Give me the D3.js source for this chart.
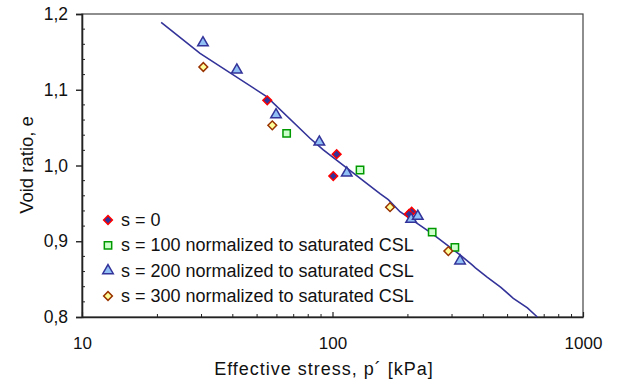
<!DOCTYPE html>
<html>
<head>
<meta charset="utf-8">
<script src="https://cdn.jsdelivr.net/npm/d3@7"></script>
<style>
  body { margin: 0; background: #fff; }
  svg { font-family: "Liberation Sans", Arial, sans-serif; }
</style>
</head>
<body>
<svg class="chart" width="620" height="381"></svg>
<script>
// series: [p' kPa, void ratio e]
const s0 = [[54.9, 1.086], [103.9, 1.015], [100.7, 0.986], [207, 0.939], [202, 0.936]];
const s100 = [[65.6, 1.0425], [128.8, 0.994], [250, 0.912], [308, 0.892]];
const s200 = [[30.4, 1.162], [41.5, 1.126], [59.5, 1.067], [88.6, 1.031], [114, 0.990],
              [206, 0.929], [219, 0.933], [323, 0.874]];
const s300 = [[30.5, 1.130], [57.5, 1.053], [169.7, 0.945], [290, 0.887]];
// fitted CSL
const csl = [[20.7, 1.189], [29.6, 1.148], [54.6, 1.091], [81.3, 1.036], [91.9, 1.0205],
             [154.7, 0.963], [167, 0.955], [186, 0.939], [249, 0.9105], [323, 0.882],
             [360, 0.869], [372, 0.865], [413, 0.853], [470, 0.839], [527, 0.8247], [600, 0.812], [657, 0.80]];

const xTicks = [10, 100, 1000];
const yTicks = [0.8, 0.9, 1.0, 1.1, 1.2];
const legendLabels = ["s = 0", "s = 100 normalized to saturated CSL",
  "s = 200 normalized to saturated CSL", "s = 300 normalized to saturated CSL"];

const svg = d3.select(".chart");
const mLeft = 82, mRight = 583, mTop = 14, mBottom = 317;
const font = "Liberation Sans, Arial, sans-serif";

const x = d3.scaleLog().domain([10, 1000]).range([mLeft, mRight]);
const y = d3.scaleLinear().domain([0.8, 1.2]).range([mBottom, mTop]);

const fmt = (v) => v.toFixed(1).replace(".", ",");

// frame
svg.append("rect")
  .attr("x", mLeft).attr("y", mTop)
  .attr("width", mRight - mLeft).attr("height", mBottom - mTop)
  .attr("fill", "none").attr("stroke", "#444").attr("stroke-width", 1.2);

// y axis: major ticks outside, minor ticks inside
const yAxis = svg.append("g").attr("transform", `translate(${mLeft},0)`);
yAxis.call(d3.axisLeft(y).tickValues(yTicks).tickFormat(fmt).tickSize(6).tickPadding(8))
  .call((g) => g.select(".domain").attr("stroke", "#222").attr("stroke-width", 1.6));
yAxis.selectAll(".tick line").attr("stroke", "#222").attr("stroke-width", 1.4);
yAxis.selectAll("text").attr("font-size", 17.5).attr("fill", "#111").attr("font-family", font);
const yMinor = d3.range(0.82, 1.2, 0.02).filter((v) => Math.abs(v * 10 - Math.round(v * 10)) > 0.01);
yAxis.selectAll(".minor").data(yMinor).enter().append("line")
  .attr("x1", 0).attr("x2", 3)
  .attr("y1", (d) => y(d)).attr("y2", (d) => y(d))
  .attr("stroke", "#222").attr("stroke-width", 1);

// x axis: ticks inside
const xAxis = svg.append("g").attr("transform", `translate(0,${mBottom})`);
xAxis.call(d3.axisBottom(x).tickValues(xTicks).tickFormat(d3.format("d")).tickSizeInner(-5).tickSizeOuter(0).tickPadding(20))
  .call((g) => g.select(".domain").attr("stroke", "#222").attr("stroke-width", 1.6));
xAxis.selectAll(".tick line").attr("stroke", "#222").attr("stroke-width", 1.2);
xAxis.selectAll("text").attr("font-size", 17).attr("fill", "#111").attr("font-family", font);
const xMinor = [];
[10, 100].forEach((b) => { for (let k = 2; k <= 9; k++) xMinor.push(b * k); });
xAxis.selectAll(".minor").data(xMinor).enter().append("line")
  .attr("x1", (d) => x(d)).attr("x2", (d) => x(d))
  .attr("y1", 0).attr("y2", -3)
  .attr("stroke", "#222").attr("stroke-width", 1);

// axis titles
svg.append("text")
  .attr("x", 324).attr("y", 375)
  .attr("text-anchor", "middle").attr("font-size", 18).attr("fill", "#111")
  .attr("letter-spacing", 1)
  .text("Effective stress, p´ [kPa]");
svg.append("text")
  .attr("transform", "translate(33,165) rotate(-90)")
  .attr("text-anchor", "middle").attr("font-size", 18.5).attr("fill", "#111")
  .text("Void ratio, e");

// CSL line
const plot = svg.append("g");
plot.append("path")
  .datum(csl)
  .attr("d", d3.line().x((d) => x(d[0])).y((d) => y(d[1])))
  .attr("fill", "none").attr("stroke", "#333399").attr("stroke-width", 1.6);

// markers
const diamond = d3.symbol().type(d3.symbolSquare).size(38)();
const square = d3.symbol().type(d3.symbolSquare).size(54)();
const triangle = d3.symbol().type(d3.symbolTriangle).size(48)();

const styles = [
  { data: s0, path: diamond, rot: 45, fill: "#333399", stroke: "#ff0000" },
  { data: s100, path: square, rot: 0, fill: "#ccffcc", stroke: "#009900" },
  { data: s200, path: triangle, rot: 0, fill: "#8fbff5", stroke: "#333399" },
  { data: s300, path: diamond, rot: 45, fill: "#ffff99", stroke: "#993300" },
];

const drawOrder = [1, 3, 0, 2];
drawOrder.forEach((i) => {
  const st = styles[i];
  plot.selectAll(`.m${i}`).data(st.data).enter().append("path")
    .attr("class", `m${i}`)
    .attr("d", st.path)
    .attr("transform", (d) => `translate(${x(d[0])},${y(d[1])}) rotate(${st.rot})`)
    .attr("fill", st.fill).attr("stroke", st.stroke).attr("stroke-width", 1.5);
});

// legend
const legendY = d3.scalePoint().domain(legendLabels).range([220, 296]);
const legend = svg.append("g");
legendLabels.forEach((lab, i) => {
  const st = styles[i];
  legend.append("path")
    .attr("d", st.path)
    .attr("transform", `translate(108,${legendY(lab)}) rotate(${st.rot})`)
    .attr("fill", st.fill).attr("stroke", st.stroke).attr("stroke-width", 1.5);
  legend.append("text")
    .attr("x", 121).attr("y", legendY(lab) + 6)
    .attr("font-size", 18).attr("fill", "#111")
    .text(lab);
});
</script>
</body>
</html>
